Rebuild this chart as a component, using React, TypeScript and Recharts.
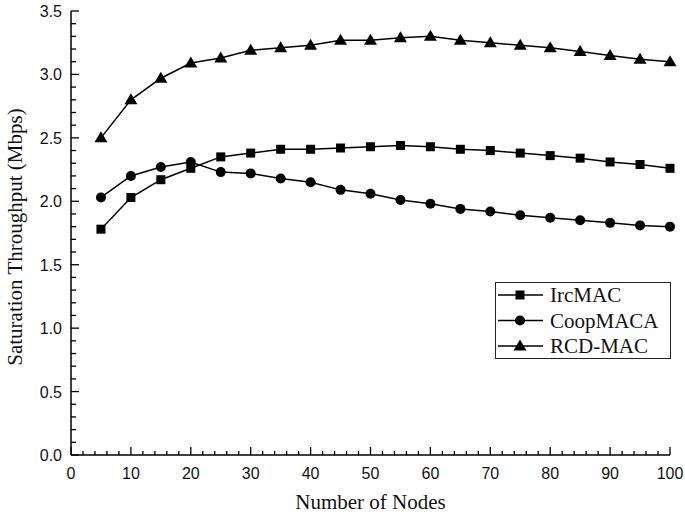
import React from 'react';
import { LineChart, Line, XAxis, YAxis, Legend } from 'recharts';

// number of nodes on the x axis
const nodes = [5, 10, 15, 20, 25, 30, 35, 40, 45, 50, 55, 60, 65, 70, 75, 80, 85, 90, 95, 100];

// saturation throughput (Mbps) per protocol
const ircMAC = [1.78, 2.03, 2.17, 2.26, 2.35, 2.38, 2.41, 2.41, 2.42, 2.43, 2.44, 2.43, 2.41, 2.4, 2.38, 2.36, 2.34, 2.31, 2.29, 2.26];
const coopMACA = [2.03, 2.2, 2.27, 2.31, 2.23, 2.22, 2.18, 2.15, 2.09, 2.06, 2.01, 1.98, 1.94, 1.92, 1.89, 1.87, 1.85, 1.83, 1.81, 1.8];
const rcdMAC = [2.5, 2.8, 2.97, 3.09, 3.13, 3.19, 3.21, 3.23, 3.27, 3.27, 3.29, 3.3, 3.27, 3.25, 3.23, 3.21, 3.18, 3.15, 3.12, 3.1];

const seriesNames = ['IrcMAC', 'CoopMACA', 'RCD-MAC'];

// major tick labels, minor ticks sit between them
const xMajor = [0, 10, 20, 30, 40, 50, 60, 70, 80, 90, 100];
const yMajor = [0, 0.5, 1, 1.5, 2, 2.5, 3, 3.5];
const xTicks = Array.from({ length: 51 }, (_, i) => i * 2);
const yTicks = Array.from({ length: 36 }, (_, i) => i / 10);

const data = nodes.map((n, i) => ({
  n,
  irc: ircMAC[i],
  coop: coopMACA[i],
  rcd: rcdMAC[i],
}));

const sansFont = '"Liberation Sans", Arial, sans-serif';
const serifFont = '"Liberation Serif", "Times New Roman", serif';

const Square = ({ cx, cy }: any) => <rect x={cx - 4.5} y={cy - 4.5} width={9} height={9} fill="#000" />;
const Circle = ({ cx, cy }: any) => <circle cx={cx} cy={cy} r={5} fill="#000" />;
const Triangle = ({ cx, cy }: any) => (
  <path d={`M${cx},${cy - 6.5} L${cx + 6.5},${cy + 4.5} L${cx - 6.5},${cy + 4.5} Z`} fill="#000" />
);

const markers = [Square, Circle, Triangle];

const XTick = (props: any) => {
  const { x, y, payload } = props;
  const major = xMajor.includes(payload.value);
  return (
    <g>
      <line x1={x} x2={x} y1={y} y2={y - (major ? 8 : 4)} stroke="#000" strokeWidth={1.3} />
      {major && (
        <text x={x} y={y + 24} textAnchor="middle" fontFamily={sansFont} fontSize={16} fill="#111">
          {payload.value}
        </text>
      )}
    </g>
  );
};

const YTick = (props: any) => {
  const { x, y, payload } = props;
  const v = Math.round(payload.value * 10) / 10;
  const major = yMajor.includes(v);
  return (
    <g>
      <line x1={x} x2={x + (major ? 8 : 5)} y1={y} y2={y} stroke="#000" strokeWidth={1.3} />
      {major && (
        <text x={x - 9} y={y + 6} textAnchor="end" fontFamily={sansFont} fontSize={16} fill="#111">
          {v.toFixed(1)}
        </text>
      )}
    </g>
  );
};

const XTitle = ({ viewBox }: any) => (
  <text
    x={viewBox.x + viewBox.width / 2}
    y={viewBox.y + 54}
    textAnchor="middle"
    fontFamily={serifFont}
    fontSize={21}
    fill="#111"
  >
    Number of Nodes
  </text>
);

const YTitle = ({ viewBox }: any) => {
  const cx = 22;
  const cy = viewBox.y + viewBox.height / 2 + 4;
  return (
    <text
      x={cx}
      y={cy}
      transform={`rotate(-90, ${cx}, ${cy})`}
      textAnchor="middle"
      fontFamily={serifFont}
      fontSize={21}
      fill="#111"
    >
      Saturation Throughput (Mbps)
    </text>
  );
};

const LegendBox = () => (
  <svg width={176} height={77}>
    <rect x={0.5} y={0.5} width={175} height={76} fill="#fff" stroke="#222" strokeWidth={1} />
    {seriesNames.map((name, i) => {
      const Mark = markers[i];
      const cy = 13 + i * 25.5;
      return (
        <g key={name}>
          <line x1={3} x2={48} y1={cy} y2={cy} stroke="#000" strokeWidth={1.5} />
          <Mark cx={25} cy={cy} />
          <text x={55} y={cy + 7} fontFamily={serifFont} fontSize={21} fill="#111">
            {name}
          </text>
        </g>
      );
    })}
  </svg>
);

export default function App() {
  const keys = ['irc', 'coop', 'rcd'];
  return (
    <div style={{ position: 'absolute', left: 0, top: 0, width: 685, height: 516, background: '#fff' }}>
      <LineChart width={685} height={516} data={data} margin={{ top: 11, right: 15, bottom: 0, left: 0 }}>
        <XAxis
          dataKey="n"
          type="number"
          domain={[0, 100]}
          ticks={xTicks}
          interval={0}
          tickSize={0}
          tickMargin={0}
          tickLine={false}
          tick={<XTick />}
          height={61}
          axisLine={{ stroke: '#000', strokeWidth: 1.5 }}
          label={<XTitle />}
        />
        <YAxis
          type="number"
          domain={[0, 3.5]}
          ticks={yTicks}
          interval={0}
          tickSize={0}
          tickMargin={0}
          tickLine={false}
          tick={<YTick />}
          width={71}
          axisLine={{ stroke: '#000', strokeWidth: 1.5 }}
          label={<YTitle />}
        />
        {keys.map((k, i) => {
          const Mark = markers[i];
          return (
            <Line
              key={k}
              type="linear"
              dataKey={k}
              name={seriesNames[i]}
              stroke="#000"
              strokeWidth={1.5}
              dot={(p: any) => <Mark key={`${k}-${p.index}`} cx={p.cx} cy={p.cy} />}
              activeDot={false}
              isAnimationActive={false}
            />
          );
        })}
        <Legend
          layout="horizontal"
          align="center"
          verticalAlign="middle"
          content={<LegendBox />}
          wrapperStyle={{ position: 'absolute', left: 495, top: 282, width: 176, height: 77 }}
        />
      </LineChart>
    </div>
  );
}
